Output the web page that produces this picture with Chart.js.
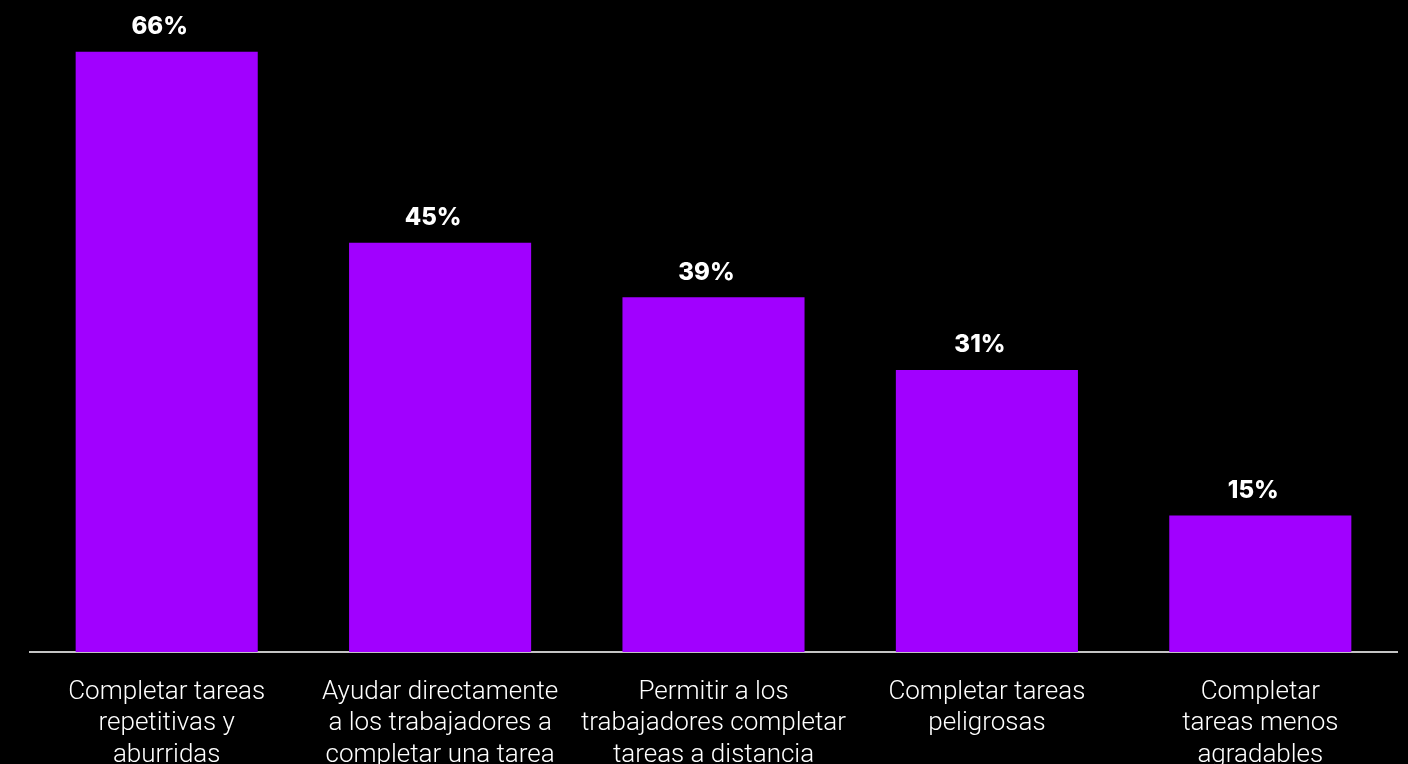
<!DOCTYPE html>
<html>
<head>
<meta charset="utf-8">
<script src="https://cdn.jsdelivr.net/npm/chart.js@4/dist/chart.umd.min.js"></script>
<style>
  html, body { margin: 0; padding: 0; background: #000; }
  #wrap { width: 1408px; height: 764px; position: relative; }
</style>
</head>
<body>
<div id="wrap"><canvas id="chart"></canvas></div>
<script>
const categories = [
  ['Completar tareas', 'repetitivas y', 'aburridas'],
  ['Ayudar directamente', 'a los trabajadores a', 'completar una tarea'],
  ['Permitir a los', 'trabajadores completar', 'tareas a distancia'],
  ['Completar tareas', 'peligrosas'],
  ['Completar', 'tareas menos', 'agradables']
];
const values = [66, 45, 39, 31, 15];

// percent labels above each bar
const barLabels = {
  id: 'barLabels',
  afterDatasetsDraw(chart) {
    const ctx = chart.ctx;
    const meta = chart.getDatasetMeta(0);
    ctx.save();
    ctx.fillStyle = '#fff';
    ctx.font = '800 24px Inter';
    ctx.textAlign = 'center';
    ctx.textBaseline = 'middle';
    meta.data.forEach((bar, i) => {
      ctx.fillText(values[i] + '%', bar.x - 7, bar.y - 25);
    });
    ctx.restore();
  }
};

new Chart(document.getElementById('chart'), {
  type: 'bar',
  data: {
    labels: categories,
    datasets: [{
      data: values,
      backgroundColor: '#A100FF',
      borderWidth: 0,
      barPercentage: 0.666,
      categoryPercentage: 1
    }]
  },
  options: {
    responsive: true,
    maintainAspectRatio: false,
    animation: false,
    layout: { padding: { left: 30, right: 11, top: 0, bottom: 0 } },
    plugins: {
      legend: { display: false },
      tooltip: { enabled: false }
    },
    scales: {
      x: {
        z: 1,
        grid: { display: false, drawTicks: false },
        border: { display: true, color: '#c4c4c4', width: 2 },
        ticks: {
          color: '#fff',
          font: { family: 'Roboto', size: 26, weight: 300, lineHeight: 1.2 },
          padding: 25,
          maxRotation: 0,
          autoSkip: false
        },
        afterFit(scale) { scale.height = 112; }
      },
      y: {
        display: false,
        min: 0,
        max: 71.7
      }
    }
  },
  plugins: [barLabels]
});
</script>
</body>
</html>
